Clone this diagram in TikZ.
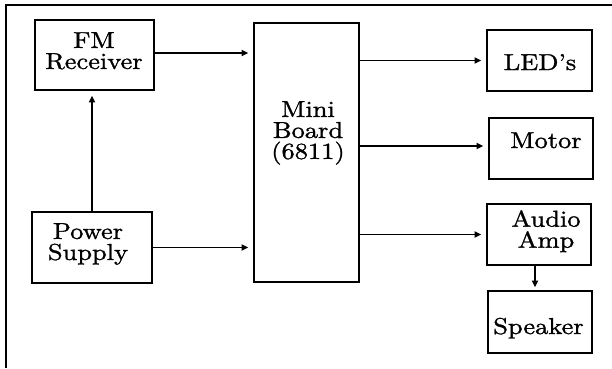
\documentclass[tikz,border=0pt]{standalone}
\usepackage{fontspec}
\setmainfont{lmroman10-regular.otf}[FakeStretch=1.15,FakeBold=1.2]
\usetikzlibrary{arrows.meta}
\tikzset{
  blk/.style={draw, line width=1.6pt, inner sep=0pt},
  lbl/.style={inner sep=0pt, align=center, font=\fontsize{23}{21}\selectfont},
  conn/.style={line width=1.7pt, -{Triangle[length=6.5pt,width=6pt]}, shorten >=5pt},
  frame/.style={line width=2.2pt},
}
\begin{document}
\begin{tikzpicture}[x=1pt,y=-1pt]
\useasboundingbox (0,0) rectangle (612,368);
\draw[frame] (6,368) -- (6,5) -- (612,5);
% boxes
\node[blk, minimum width=119pt, minimum height=70pt] (fm) at (94.5,55) {};
\node[blk, minimum width=105pt, minimum height=259pt] (mini) at (306.5,152.5) {};
\node[blk, minimum width=120pt, minimum height=71pt] (power) at (92,247.5) {};
\node[blk, minimum width=105pt, minimum height=61pt] (led) at (539.5,60.5) {};
\node[blk, minimum width=104pt, minimum height=61pt] (motor) at (541,148.5) {};
\node[blk, minimum width=104pt, minimum height=61pt] (amp) at (539,234.5) {};
\node[blk, minimum width=104pt, minimum height=62pt] (spk) at (540,322) {};
% texts
\node[lbl, anchor=north] (fmT) at (94,32) {FM\\Receiver};
\node[lbl, anchor=north] (miniT) at (308,101) {Mini\\Board\\(6811)};
\node[lbl, anchor=north] (powerT) at (88,223) {Power\\Supply};
\node[lbl, anchor=base] (ledT) at (540,70) {LED's};
\node[lbl, anchor=base] (motorT) at (546,148) {Motor};
\node[lbl, anchor=north] (ampT) at (546,210) {Audio\\Amp};
\node[lbl, anchor=base] (spkT) at (538.5,334) {Speaker};
% connectors
\draw[conn] ([yshift=2pt]fm.east) -- ([yshift=2pt]fm.east -| mini.west);
\draw[conn] (power.east) -- (power.east -| mini.west);
\draw[conn] (power.north) -- (power.north |- fm.south);
\draw[conn] (led.west -| mini.east) -- (led.west);
\draw[conn] ([yshift=2.5pt]motor.west -| mini.east) -- ([yshift=2.5pt]motor.west);
\draw[conn] (amp.west -| mini.east) -- (amp.west);
\draw[conn, shorten >=3pt] ([xshift=-4pt]amp.south) -- ([xshift=-4pt]amp.south |- spk.north);
\end{tikzpicture}
\end{document}
